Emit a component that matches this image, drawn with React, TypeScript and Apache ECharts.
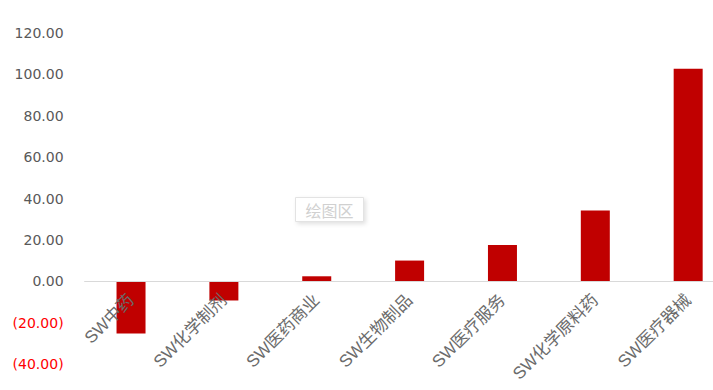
import React, { useEffect, useRef } from "react";
import * as echarts from "echarts";

const categories = ["SW中药", "SW化学制剂", "SW医药商业", "SW生物制品", "SW医疗服务", "SW化学原料药", "SW医疗器械"];
const values = [-25.3, -9.3, 2.4, 10.0, 17.5, 34.2, 102.7];
const yMin = -40;
const yMax = 120;
const yInterval = 20;

const fmt = (v: number) => (v < 0 ? `(${Math.abs(v).toFixed(2)})` : v.toFixed(2));

const gridTop = 33;
const gridHeight = 331;
const zeroOffset = -(gridHeight * (0 - yMin)) / (yMax - yMin);

export default function App() {
  const ref = useRef<HTMLDivElement>(null);
  useEffect(() => {
    if (!ref.current) return;
    const chart = echarts.init(ref.current, undefined, { renderer: "svg" });
    chart.setOption({
      animation: false,
      backgroundColor: "#ffffff",
      grid: { left: 84.6, top: gridTop, width: 650, height: gridHeight, containLabel: false, outerBoundsMode: "none" },
      xAxis: {
        type: "category",
        data: categories,
        offset: zeroOffset,
        z: 5,
        axisLine: { onZero: false, lineStyle: { color: "#d9d9d9", width: 1 } },
        axisTick: { show: false },
        axisLabel: {
          rotate: 45,
          margin: 16,
          interval: 0,
          color: "#6b6b6b",
          fontSize: 17,
          fontFamily: "'Liberation Sans', 'Noto Sans CJK SC', sans-serif",
        },
        splitLine: { show: false },
      },
      yAxis: {
        type: "value",
        min: yMin,
        max: yMax,
        interval: yInterval,
        axisLine: { show: false },
        axisTick: { show: false },
        splitLine: { show: false },
        axisLabel: {
          margin: 21,
          fontSize: 14,
          fontFamily: "'DejaVu Sans', sans-serif",
          formatter: (v: number) => fmt(v),
          color: (v: any) => (Number(v) < 0 ? "#ff0000" : "#595959"),
        },
      },
      series: [
        {
          type: "bar",
          data: values,
          barWidth: 29,
          z: 2,
          itemStyle: { color: "#c00000" },
        },
      ],
      graphic: [
        {
          type: "group",
          left: 295,
          top: 197,
          children: [
            {
              type: "rect",
              shape: { x: 0, y: 0, width: 68, height: 24 },
              style: {
                fill: "#ffffff",
                stroke: "#e3e3e3",
                lineWidth: 1,
                shadowBlur: 4,
                shadowOffsetX: 2,
                shadowOffsetY: 2,
                shadowColor: "rgba(0,0,0,0.12)",
              },
            },
            {
              type: "text",
              x: 34,
              y: 12,
              style: {
                text: "绘图区",
                fill: "#d0d0d0",
                fontSize: 16,
                fontFamily: "'Noto Sans CJK SC', sans-serif",
                align: "center",
                verticalAlign: "middle",
              },
            },
          ],
        },
      ],
    });
    return () => chart.dispose();
  }, []);
  return <div ref={ref} style={{ position: "fixed", left: 0, top: 0, width: 713, height: 390 }} />;
}
